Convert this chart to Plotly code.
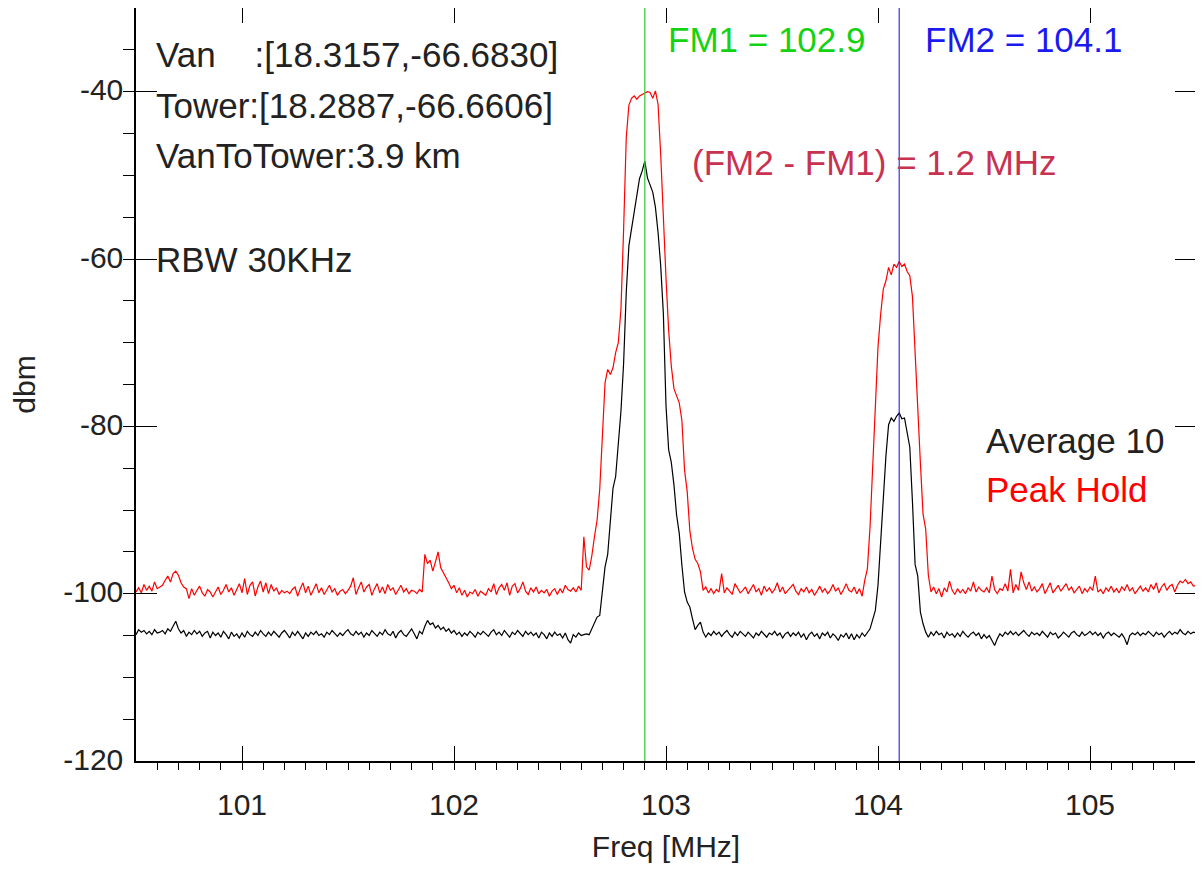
import plotly.graph_objects as go

# Sweep definition of the spectrum analyzer (x grid)
FREQ_START = 100.5   # MHz
FREQ_STEP = 0.0125   # MHz per sweep point

# Peak Hold trace (dBm), one value per sweep point
peak_hold = [
    -99.8, -99.3, -99.9, -98.9, -99.6, -99.1, -99.7, -98.6, -99.4, -99.2,
    -99.0, -98.4, -97.9, -98.6, -97.6, -97.3, -97.8, -98.7, -99.2, -99.4,
    -100.6, -99.4, -100.2, -99.6, -99.1, -99.9, -100.3, -99.5, -99.8, -100.4,
    -99.7, -99.2, -100.1, -99.6, -98.9, -99.8, -99.3, -100.2, -99.5, -98.8,
    -99.9, -98.2, -100.1, -99.0, -98.6, -100.3, -99.2, -98.5, -99.8, -98.7,
    -100.0, -98.9, -99.7, -99.3, -100.1, -99.6, -99.9, -99.7, -100.0, -99.5,
    -99.2, -100.3, -99.4, -98.7, -99.9, -99.1, -100.2, -99.5, -98.8, -99.9,
    -99.3, -100.1, -99.6, -99.0, -99.8, -99.4, -100.2, -99.7, -99.5, -100.0,
    -99.6, -99.1, -98.1, -100.1, -99.3, -98.6, -99.8, -99.2, -98.9, -100.2,
    -99.4, -98.8, -99.9, -99.2, -100.0, -98.9, -99.6, -99.3, -100.1, -99.5,
    -99.0, -99.8, -99.4, -100.0, -99.6, -99.7, -100.0, -99.5, -99.8, -95.3,
    -96.4, -96.0, -97.3, -96.2, -95.0, -96.9, -97.6, -98.1, -98.7, -99.4,
    -99.0, -99.9, -99.3, -100.2, -99.6, -100.4, -99.8, -100.0, -99.5, -100.3,
    -99.7, -99.9, -100.2, -99.4, -99.8, -98.8, -100.1, -99.3, -98.9, -99.6,
    -98.7, -100.2, -99.1, -98.8, -99.9, -99.4, -98.6, -99.7, -100.1, -99.3,
    -99.8, -99.2, -100.0, -99.6, -99.9, -99.5, -100.3, -99.7, -99.4, -100.1,
    -99.4, -99.9, -99.0, -99.5, -99.7, -99.3, -99.8, -99.1, -99.6, -93.2,
    -96.8, -97.2, -95.5, -93.2, -91.2, -87.5, -80.5, -74.8, -73.2, -73.8,
    -73.0, -71.2, -70.0, -66.0, -56.5, -45.5, -41.6, -40.8, -40.5, -40.9,
    -40.5, -40.3, -40.2, -40.0, -40.1, -40.8, -39.9, -41.5, -47.5, -56.0,
    -62.3, -68.5, -72.8, -75.5, -76.3, -77.2, -79.3, -85.2, -87.8, -92.5,
    -94.6, -95.9, -96.4, -97.4, -99.6, -99.2, -99.9, -99.4, -100.0, -99.5,
    -99.8, -97.6, -99.9, -99.3, -99.7, -100.1, -98.8, -99.4, -99.9, -99.6,
    -99.2, -100.0, -99.5, -98.9, -99.8, -99.4, -100.2, -99.1, -99.7, -99.3,
    -99.9, -99.5, -98.7, -99.8, -99.2, -100.0, -99.6, -99.3, -98.9, -99.7,
    -100.1, -99.4, -99.8, -99.2, -99.9, -99.5, -100.2, -99.7, -99.1, -99.8,
    -99.4, -100.0, -99.6, -98.9, -99.7, -99.3, -100.1, -99.5, -98.8, -99.6,
    -99.8, -99.2, -100.0, -99.4, -100.3, -98.4, -97.0, -92.0, -85.0, -76.5,
    -70.5, -66.6, -63.6, -62.6, -61.0, -61.9, -60.6, -61.0, -60.3, -60.9,
    -60.6, -61.5, -62.0, -64.5, -71.5, -78.5, -84.4, -90.5, -92.3, -97.8,
    -99.8, -99.2, -100.0, -99.4, -100.4, -99.3, -99.8, -98.5, -99.6, -100.1,
    -99.4, -99.9, -99.5, -100.0, -99.3, -99.7, -98.6, -99.8, -99.2, -99.6,
    -99.8, -99.3, -99.9, -97.9, -99.5, -100.0, -99.4, -99.6, -98.8, -99.7,
    -97.1, -99.9, -98.9, -99.6, -97.4, -98.7, -99.5, -98.6, -99.7, -99.2,
    -99.8, -99.4, -98.8, -100.0, -99.3, -98.7, -99.9, -99.5, -99.0, -99.7,
    -99.3, -98.8, -99.6, -99.2, -99.9, -99.5, -99.1, -100.0, -99.4, -99.8,
    -99.2, -99.6, -97.9, -99.8, -99.5, -100.0, -99.3, -99.7, -99.1, -99.8,
    -99.4, -99.9, -99.2, -99.6, -98.9, -99.7, -99.3, -100.0, -99.5, -99.1,
    -99.7, -99.3, -99.8, -98.9, -99.5, -98.7, -99.9, -99.2, -98.8, -99.6,
    -99.1, -98.9, -99.8, -99.0, -98.5, -98.7, -98.3, -98.8, -98.6, -99.1,
    -99.0,
]

# Average 10 trace (dBm)
average_10 = [
    -104.9, -104.3, -104.6, -104.4, -104.8, -104.5, -104.9, -104.3, -104.7, -104.6,
    -104.4, -104.8, -104.2, -104.5, -103.9, -103.3, -104.2, -104.7, -104.4, -105.1,
    -104.6, -104.9, -104.4, -104.8, -104.5, -105.1, -104.7, -104.5, -105.3, -104.6,
    -105.0, -104.7, -105.2, -104.5, -104.9, -105.4, -104.6, -105.1, -104.8, -105.3,
    -104.7, -105.2, -104.5, -104.9, -105.1, -104.6, -105.0, -104.4, -104.8, -105.1,
    -104.6, -105.0, -104.5, -104.9, -105.2, -104.7, -104.4, -104.8, -105.3, -104.6,
    -105.0, -104.5, -104.9, -105.4, -104.7, -105.1, -104.6, -104.9, -104.5, -105.0,
    -104.8, -105.2, -104.6, -104.9, -104.4, -104.8, -105.1, -104.7, -105.0, -104.6,
    -104.3, -104.8, -105.0, -104.5, -104.9, -104.6, -105.2, -104.7, -105.0, -104.4,
    -104.8, -105.1, -104.6, -104.9, -104.3, -104.8, -105.0, -104.5, -105.3, -104.7,
    -104.4, -104.9, -105.1, -104.6, -104.2, -104.8, -105.4, -104.5, -104.8, -103.9,
    -103.2, -103.7, -103.5, -104.1, -103.8, -104.3, -104.0, -104.5, -104.2, -104.7,
    -104.4, -104.9, -104.6, -105.1, -104.7, -105.0, -104.5, -104.8, -105.2, -104.6,
    -104.9, -104.5, -104.8, -105.1, -104.6, -104.3, -104.9, -104.6, -105.0, -104.4,
    -104.8, -105.2, -104.6, -104.9, -104.4, -104.8, -105.1, -104.5, -104.9, -104.6,
    -105.0, -104.7, -105.3, -104.6, -104.9, -105.4, -104.7, -105.1, -104.6, -105.0,
    -104.8, -105.3, -104.7, -105.5, -105.9, -104.9, -105.2, -104.7, -105.0, -104.9,
    -104.8, -104.9, -104.2, -103.6, -102.8, -102.6, -99.5, -96.8, -95.3, -91.0,
    -87.4, -86.0, -81.8, -78.2, -72.5, -64.0, -58.4, -56.3, -54.6, -52.6,
    -50.4, -49.5, -48.3, -50.3, -51.2, -52.0, -53.8, -56.8, -60.8, -66.5,
    -77.5, -82.8, -84.3, -87.0, -90.6, -92.8, -96.6, -99.8, -101.0, -101.6,
    -103.0, -104.3, -103.8, -103.4, -104.6, -105.2, -104.7, -105.0, -104.5, -104.9,
    -104.6, -105.1, -104.7, -104.4, -104.9, -105.2, -104.6, -105.0, -104.5, -104.8,
    -105.1, -104.6, -104.9, -105.3, -104.7, -105.0, -104.5, -104.9, -105.2, -104.7,
    -104.9, -104.5, -105.0, -104.7, -105.3, -104.8, -104.6, -105.1, -104.7, -105.0,
    -104.6, -105.2, -104.8, -105.5, -104.9, -104.6, -105.1, -104.8, -105.4, -104.7,
    -105.0, -104.6, -105.3, -104.8, -105.1, -105.6, -104.9, -105.2, -104.7, -105.4,
    -104.8, -105.5, -104.9, -105.3, -104.7, -105.1, -104.6, -104.2, -103.1, -102.0,
    -99.0, -93.3, -88.5, -83.5, -79.8, -79.0, -79.4, -78.8, -78.4, -79.1,
    -79.0, -80.6, -82.5, -89.0, -96.5, -97.9, -102.2, -103.6, -104.6, -105.2,
    -104.6, -105.0, -104.5, -104.9, -104.7, -105.3, -104.6, -105.0, -104.8, -105.2,
    -104.7, -105.1, -104.5, -104.9, -105.2, -104.8, -104.6, -105.0, -104.7, -105.4,
    -104.9, -105.3, -105.0, -105.6, -106.2, -105.4, -104.8, -105.1, -104.6, -104.9,
    -104.5, -104.9, -104.6, -105.0, -104.7, -104.4, -104.8, -105.1, -104.6, -104.9,
    -104.7, -105.0, -104.5, -104.8, -105.2, -104.6, -104.9, -104.7, -105.3, -105.0,
    -104.6, -104.9, -105.2, -104.7, -104.5, -104.9, -105.1, -104.6, -105.0, -104.8,
    -104.5, -104.9, -104.6, -105.0, -104.7, -105.3, -104.8, -104.6, -105.0, -104.7,
    -104.9, -105.2, -104.8, -105.3, -106.1, -105.0, -104.7, -104.9, -104.6, -105.0,
    -104.7, -104.9, -104.5, -104.8, -105.1, -104.6, -104.9, -104.7, -105.2, -104.8,
    -104.5, -104.9, -104.6, -104.8, -104.3, -104.7, -104.9, -104.5, -104.8, -104.6,
    -104.7,
]

freq = [round(FREQ_START + i * FREQ_STEP, 4) for i in range(len(peak_hold))]

# Carrier markers (MHz)
FM1 = 102.9
FM2 = 104.1

# Axis ticks
x_range = [100.5, 105.5]
y_range = [-120, -30]
x_tick_vals = [101, 102, 103, 104, 105]
x_tick_text = ["101", "102", "103", "104", "105"]
y_tick_vals = [-120, -100, -80, -60, -40]
y_tick_text = ["-120", "-100", "-80", "-60", "-40"]

# Annotation texts
info_lines = [
    "Van\u00a0\u00a0\u00a0\u00a0:[18.3157,-66.6830]",
    "Tower:[18.2887,-66.6606]",
    "VanToTower:3.9 km",
]
rbw_text = "RBW 30KHz"
legend_avg = "Average 10"
legend_peak = "Peak Hold"

FONT = "Liberation Sans, Arial, Helvetica, sans-serif"
TXT = "#222222"

fig = go.Figure()
fig.add_trace(go.Scatter(x=freq, y=peak_hold, mode="lines", name=legend_peak,
                         line=dict(color="#FF0000", width=1.2)))
fig.add_trace(go.Scatter(x=freq, y=average_10, mode="lines", name=legend_avg,
                         line=dict(color="#000000", width=1.2)))

fig.add_shape(type="line", xref="x", yref="paper", x0=FM1, x1=FM1, y0=0, y1=1,
              line=dict(color="#3FC83F", width=1.3))
fig.add_shape(type="line", xref="x", yref="paper", x0=FM2, x1=FM2, y0=0, y1=1,
              line=dict(color="#2424E0", width=1.1))

ann = []
ys = [-35.6, -41.6, -47.6]
for t, yv in zip(info_lines, ys):
    ann.append(dict(x=100.587, y=yv, text=t, font=dict(size=35, color=TXT)))
ann.append(dict(x=100.587, y=-60.0, text=rbw_text, font=dict(size=35, color=TXT)))
ann.append(dict(x=103.0, y=-33.8, text=f"FM1 = {FM1}", font=dict(size=35, color="#14D214")))
ann.append(dict(x=104.212, y=-33.8, text=f"FM2 = {FM2}", font=dict(size=35, color="#1A1AF0")))
ann.append(dict(x=103.115, y=-48.5, text=f"(FM2 - FM1) = {FM2 - FM1:.1f} MHz",
                font=dict(size=35, color="#C83250")))
ann.append(dict(x=104.5, y=-81.7, text=legend_avg, font=dict(size=35, color=TXT)))
ann.append(dict(x=104.5, y=-87.6, text=legend_peak, font=dict(size=35, color="#FF0000")))
for a in ann:
    a.update(xref="x", yref="y", xanchor="left", yanchor="middle", showarrow=False)
fig.update_layout(annotations=ann)

tickfont = dict(size=30, color=TXT, family=FONT)
common = dict(showline=True, linecolor="#000000", linewidth=1.5,
              ticks="inside", tickcolor="#000000", tickwidth=1.2,
              mirror=True, showgrid=False, zeroline=False, tickfont=tickfont)

xminor = dict(dtick=0.1, tick0=100.5, ticklen=7, tickcolor="#000000", tickwidth=1.2, showgrid=False)
yminor = dict(dtick=5, tick0=0, ticklen=11, tickcolor="#000000", tickwidth=1.2, showgrid=False)

fig.update_layout(
    xaxis=dict(**common, range=x_range, tickmode="array", tickvals=x_tick_vals,
               ticktext=x_tick_text, ticklen=15, minor=xminor,
               title=dict(text="Freq [MHz]", font=tickfont, standoff=16),
               ticklabelstandoff=16),
    yaxis=dict(**common, range=y_range, tickmode="array", tickvals=y_tick_vals,
               ticktext=y_tick_text, ticklen=21, minor=yminor,
               title=dict(text="dbm", font=tickfont, standoff=23),
               ticklabelstandoff=5, ticklabelshift=-2),
    # mirrored tick marks on the top and right edges
    xaxis2=dict(overlaying="x", side="top", anchor="y", range=x_range,
                tickmode="array", tickvals=x_tick_vals, showticklabels=False,
                ticks="inside", ticklen=15, tickcolor="#000000", tickwidth=1.2,
                minor=xminor, showline=False, showgrid=False, zeroline=False),
    yaxis2=dict(overlaying="y", side="right", anchor="x", range=y_range,
                tickmode="array", tickvals=y_tick_vals, showticklabels=False,
                ticks="inside", ticklen=21, tickcolor="#000000", tickwidth=1.2,
                minor=yminor, showline=False, showgrid=False, zeroline=False),
)

# helper trace (no visible marks) so the mirrored axes are drawn
fig.add_trace(go.Scatter(x=[x_range[0]], y=[y_range[0]], xaxis="x2", yaxis="y2",
                         mode="markers", marker=dict(opacity=0), hoverinfo="skip",
                         showlegend=False))

# The page body has an 8 px margin, so the figure is sized and offset accordingly
fig.update_layout(
    width=1195, height=861,
    margin=dict(l=128, r=7, t=0, b=108, autoexpand=False),
    plot_bgcolor="#FFFFFF", paper_bgcolor="#FFFFFF",
    showlegend=False,
    font=dict(family=FONT, color=TXT),
)

fig.write_html("out.html")
